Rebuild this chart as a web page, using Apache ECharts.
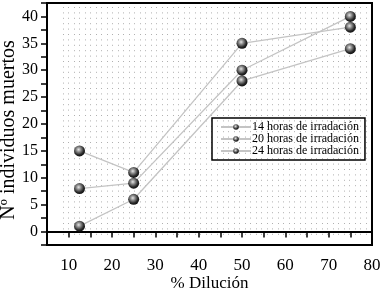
<!DOCTYPE html>
<html>
<head>
<meta charset="UTF-8">
<title>Chart</title>
<script src="https://cdn.jsdelivr.net/npm/echarts@6/dist/echarts.min.js"></script>
<style>
  html, body { margin: 0; padding: 0; background: #fff; }
  #main { width: 386px; height: 296px; }
</style>
</head>
<body>
<div id="main"></div>
<script type="text/javascript">
// datos
var dilucion = [12.5, 25, 50, 75];
var nombres = ['14 horas de irradación', '20 horas de irradación', '24 horas de irradación'];
var horas14 = [1, 6, 28, 34];
var horas20 = [8, 9, 30, 40];
var horas24 = [15, 11, 35, 38];

var myChart = echarts.init(document.getElementById('main'));
var fuente = 'Liberation Serif';

// bola sombreada
var bola = {
  type: 'radial', x: 0.42, y: 0.38, r: 0.62,
  colorStops: [
    { offset: 0, color: '#e6e6e6' },
    { offset: 0.35, color: '#8a8a8a' },
    { offset: 0.75, color: '#2a2a2a' },
    { offset: 1, color: '#111' }
  ]
};

function pares(vals) {
  return dilucion.map(function (x, i) { return [x, vals[i]]; });
}

function serie(nombre, vals) {
  return {
    name: nombre,
    type: 'line',
    xAxisIndex: 0,
    yAxisIndex: 0,
    data: pares(vals),
    symbol: 'circle',
    symbolSize: 11,
    lineStyle: { color: '#c4c4c4', width: 1.3 },
    itemStyle: { color: bola, borderWidth: 0 },
    emphasis: { disabled: true },
    z: 3
  };
}

var option = {
  backgroundColor: '#fff',
  animation: false,
  textStyle: { fontFamily: fuente, color: '#000' },
  legend: {
    orient: 'vertical',
    left: 212,
    top: 118,
    width: 150,
    padding: [3, 6, 3, 8],
    itemGap: 0,
    itemWidth: 30,
    itemHeight: 7,
    borderColor: '#000',
    borderWidth: 1.5,
    backgroundColor: 'transparent',
    textStyle: { fontFamily: fuente, fontSize: 12, color: '#000', padding: [0, 0, 0, -4] },
    data: nombres
  },
  grid: [
    { left: 47, right: 14, top: 3, bottom: 51, containLabel: false, outerBoundsMode: 'none',
      show: true, borderColor: '#000', borderWidth: 2, backgroundColor: 'transparent' },
    { left: 63, right: 20, top: 7, bottom: 60, containLabel: false, outerBoundsMode: 'none', show: false }
  ],
  xAxis: [
    {
      gridIndex: 0,
      type: 'value',
      min: 5, max: 80, interval: 5,
      name: '% Dilución',
      nameLocation: 'middle',
      nameGap: 30,
      nameMoveOverlap: false,
      nameTextStyle: { fontFamily: fuente, fontSize: 17, color: '#000' },
      axisLine: { show: true, lineStyle: { color: '#000', width: 2 } },
      axisTick: { show: true, inside: false, length: 6, lineStyle: { color: '#000', width: 1.5 } },
      axisLabel: {
        fontFamily: fuente, fontSize: 17, color: '#000', margin: 12,
        formatter: function (v) { return v % 10 === 0 ? String(v) : ''; }
      },
      splitLine: { show: false }
    },
    {
      gridIndex: 1,
      type: 'value',
      min: 0, max: 55, interval: 1,
      axisLine: { show: false },
      axisTick: { show: false },
      axisLabel: { show: false },
      splitLine: { show: true, lineStyle: { color: '#b0b0b0', width: 1, type: [1, 4.4] } }
    }
  ],
  yAxis: [
    {
      gridIndex: 0,
      type: 'value',
      min: -2.5, max: 42.5, interval: 2.5,
      name: 'Nº individuos muertos',
      nameLocation: 'middle',
      nameGap: 28,
      nameMoveOverlap: false,
      nameTextStyle: { fontFamily: fuente, fontSize: 20, color: '#000', padding: [0, 12, 0, 0] },
      axisLine: { show: true, lineStyle: { color: '#000', width: 2 } },
      axisTick: { show: true, inside: false, length: 6, lineStyle: { color: '#000', width: 1.5 } },
      axisLabel: {
        fontFamily: fuente, fontSize: 16, color: '#000', margin: 9,
        formatter: function (v) { return v % 5 === 0 ? String(v) : ''; }
      },
      splitLine: { show: false }
    },
    {
      gridIndex: 1,
      type: 'value',
      min: 0, max: 10,
      axisLine: { show: false },
      axisTick: { show: false },
      axisLabel: { show: false },
      splitLine: { show: false }
    }
  ],
  series: [
    serie(nombres[0], horas14),
    serie(nombres[1], horas20),
    serie(nombres[2], horas24)
  ]
};

myChart.setOption(option, true);
</script>
</body>
</html>
